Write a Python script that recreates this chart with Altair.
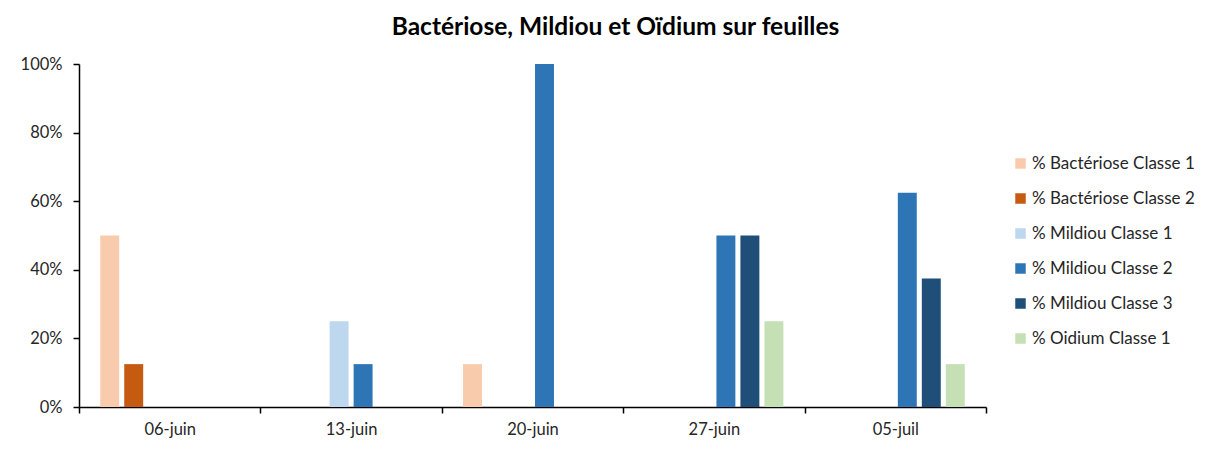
import altair as alt
import pandas as pd

dates = ["06-juin", "13-juin", "20-juin", "27-juin", "05-juil"]
series = ["% Bactériose Classe 1", "% Bactériose Classe 2", "% Mildiou Classe 1",
          "% Mildiou Classe 2", "% Mildiou Classe 3", "% Oidium Classe 1"]
colors = ["#F8CBAD", "#C55A11", "#BDD7EE", "#2E75B6", "#1F4E79", "#C5E0B4"]

bact1 = [0.50, 0.0, 0.125, 0.0, 0.0]
bact2 = [0.125, 0.0, 0.0, 0.0, 0.0]
mild1 = [0.0, 0.25, 0.0, 0.0, 0.0]
mild2 = [0.0, 0.125, 1.0, 0.50, 0.625]
mild3 = [0.0, 0.0, 0.0, 0.50, 0.375]
oid1 = [0.0, 0.0, 0.0, 0.25, 0.125]

values = [bact1, bact2, mild1, mild2, mild3, oid1]
rows = []
for s, vals in zip(series, values):
    for d, v in zip(dates, vals):
        rows.append({"date": d, "serie": s, "value": v})
df = pd.DataFrame(rows)

FONT = "Lato"

chart = alt.Chart(df).mark_bar().encode(
    x=alt.X("date:N", sort=dates, title=None,
            scale=alt.Scale(paddingInner=0, paddingOuter=0),
            axis=alt.Axis(labelAngle=0, tickBand="extent", domainColor="#000000",
                          tickColor="#000000", tickSize=6, labelFontSize=16.5,
                          labelColor="#262626", labelFont=FONT, labelPadding=8,
                          domainWidth=1.5, tickWidth=1.5)),
    xOffset=alt.XOffset("serie:N", sort=series,
                        scale=alt.Scale(paddingInner=0.21, paddingOuter=0.885)),
    y=alt.Y("value:Q", title=None,
            scale=alt.Scale(domain=[0, 1], nice=False),
            axis=alt.Axis(format=".0%", values=[0, 0.2, 0.4, 0.6, 0.8, 1.0],
                          grid=False, domainColor="#000000", tickColor="#000000",
                          tickSize=6, labelFontSize=16.5, labelColor="#262626",
                          labelFont=FONT, labelPadding=11, domainWidth=1.5,
                          tickWidth=1.5)),
    color=alt.Color("serie:N", sort=series, title=None,
                    scale=alt.Scale(domain=series, range=colors),
                    legend=alt.Legend(orient="none", legendX=933, legendY=91,
                                      symbolType="square", symbolSize=110,
                                      symbolStrokeWidth=0, labelFontSize=17,
                                      labelFont=FONT, labelColor="#262626",
                                      rowPadding=17, labelOffset=3,
                                      labelLimit=300)),
).properties(
    width=907,
    height=343,
    autosize=alt.AutoSizeParams(type="none"),
    padding={"left": 71, "top": 56, "right": 212, "bottom": 35},
    title=alt.TitleParams("Bactériose, Mildiou et Oïdium sur feuilles",
                          font=FONT, fontSize=24.5, fontWeight="bold",
                          color="#000000", anchor="middle", dx=83, offset=16),
).configure_view(stroke=None)

chart.save("out.html", embed_options={"renderer": "svg", "actions": False})
